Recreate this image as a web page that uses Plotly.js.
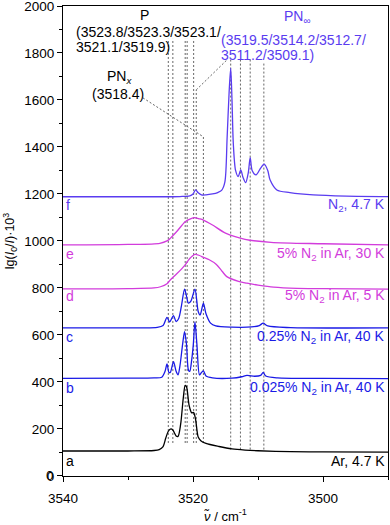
<!DOCTYPE html>
<html>
<head>
<meta charset="utf-8">
<script src="https://cdn.plot.ly/plotly-3.0.1.min.js"></script>
<style>
  html, body { margin: 0; padding: 0; background: #fff; }
  #plotIR { width: 390px; height: 525px; }
</style>
</head>
<body>
<div id="plotIR"></div>
<script>
// spectra, wavenumber (cm-1) and offset absorbance lg(I0/I)*10^3
var wnA = [3540, 3530, 3526, 3525.2, 3524.6, 3524.2, 3523.8, 3523.4, 3523.1, 3522.6, 3522.3, 3521.9, 3521.5, 3521.2, 3521.0, 3520.6, 3520.2, 3519.9, 3519.6, 3519.2, 3518.8, 3518.0, 3516, 3514, 3512, 3510, 3505, 3500, 3490];
var spA  = [106, 106, 108, 112, 125, 160, 190, 200, 195, 170, 168, 220, 330, 385, 380, 300, 268, 270, 240, 165, 150, 138, 125, 115, 110, 107, 103, 102, 101];

var wnB = [3540, 3530, 3526, 3524.8, 3524.3, 3524.0, 3523.7, 3523.5, 3523.0, 3522.6, 3522.3, 3522.0, 3521.6, 3521.3, 3521.0, 3520.7, 3520.5, 3520.2, 3519.95, 3519.7, 3519.4, 3519.0, 3518.7, 3518.4, 3518.0, 3517, 3514, 3512.5, 3511.7, 3510.5, 3509.6, 3509.2, 3508.8, 3507, 3500, 3490];
var spB  = [415, 416, 417, 420, 445, 477, 440, 440, 486, 445, 430, 470, 560, 614, 560, 450, 445, 494, 560, 655, 560, 430, 440, 447, 425, 417, 416, 422, 428, 424, 428, 440, 425, 417, 415, 414];

var wnC = [3540, 3528, 3525.5, 3524.6, 3524.0, 3523.6, 3523.0, 3522.6, 3522.2, 3521.8, 3521.3, 3521.0, 3520.7, 3520.3, 3519.7, 3519.2, 3518.9, 3518.4, 3518.0, 3517.3, 3516.5, 3514, 3511, 3509.8, 3509.2, 3508.5, 3505, 3490];
var spC  = [630, 630, 632, 640, 675, 655, 682, 657, 670, 720, 795, 765, 735, 745, 795, 700, 685, 735, 690, 650, 638, 633, 634, 640, 650, 638, 631, 630];

var wnD = [3540, 3530, 3526, 3525, 3524, 3523.5, 3522.5, 3521.3, 3520.5, 3519.7, 3519, 3518.4, 3517.5, 3516.4, 3515.5, 3514.8, 3513, 3511.7, 3510, 3507.6, 3504, 3500, 3490];
var spD  = [796, 797, 800, 805, 818, 834, 860, 895, 925, 943, 938, 930, 920, 900, 870, 848, 828, 820, 812, 803, 798, 797, 795];

var wnE = [3540, 3530, 3525.1, 3524, 3523.5, 3522.5, 3521.2, 3520.3, 3519.8, 3519, 3518.4, 3517, 3515, 3512, 3508, 3500, 3490];
var spE  = [983, 985, 990, 1000, 1011, 1040, 1082, 1095, 1099, 1094, 1089, 1068, 1033, 1007, 994, 988, 983];

var wnF = [3540, 3530, 3522, 3520.5, 3520, 3519.6, 3519.2, 3518.7, 3518, 3517, 3516.2, 3515.6, 3515.1, 3514.75, 3514.45, 3514.2, 3514.0, 3513.8, 3513.45, 3513.05, 3512.65, 3512.3, 3511.9, 3511.5, 3511.2, 3510.9, 3510.3, 3509.6, 3509.05, 3508.5, 3508.15, 3507.1, 3505.1, 3501.5, 3496.4, 3490];
var spF  = [1188, 1188, 1189, 1192, 1200, 1217, 1205, 1196, 1196, 1200, 1206, 1215, 1250, 1440, 1630, 1735, 1600, 1415, 1300, 1274, 1302, 1270, 1248, 1290, 1355, 1300, 1281, 1310, 1327, 1300, 1260, 1217, 1206, 1196, 1191, 1189];

// y ticks
var yTicks = [0, 200, 400, 600, 800, 1000, 1200, 1400, 1600, 1800, 2000];

// band positions marked by dashed lines
var bandP   = [3523.8, 3523.1, 3521.2, 3520.9, 3519.9];
var bandPNx = [3518.4];
var bandPNinf = [3519.5, 3514.2, 3512.7, 3511.2, 3509.1];
var topP = 1860, topPNx = 1443, topPNinf = [1643, 1779, 1779, 1779, 1762];
var bottomP = 140, bottomPNinf = [140, 112, 112, 112, 112];

// leader lines from labels to bands
var leadPNxX = [3527.7, 3518.4];
var leadPNxY = [1609, 1443];
var leadPNinfX = [3519.5, 3514.8];
var leadPNinfY = [1643, 1770];

var sampleLabels = ["Ar, 4.7 K", "0.025% N<sub>2</sub> in Ar, 40 K", "0.25% N<sub>2</sub> in Ar, 40 K",
                    "5% N<sub>2</sub> in Ar, 5 K", "5% N<sub>2</sub> in Ar, 30 K", "N<sub>2</sub>, 4.7 K"];
var letters = ["a", "b", "c", "d", "e", "f"];
var colors = ["#000000", "#1a1ae6", "#1a1ae6", "#d23cdc", "#d23cdc", "#5a3cf0"];

var dashStyle = {color: "#666", width: 1, dash: "2px,2px"};
var traces = [];

function vline(x, y0, y1) {
    traces.push({x: [x, x], y: [y0, y1], mode: "lines", line: dashStyle, hoverinfo: "skip", showlegend: false});
}
bandP.forEach(function (w) { vline(w, bottomP, topP); });
bandPNx.forEach(function (w) { vline(w, bottomP, topPNx); });
bandPNinf.forEach(function (w, i) { vline(w, bottomPNinf[i], topPNinf[i]); });
traces.push({x: leadPNxX, y: leadPNxY, mode: "lines", line: dashStyle, showlegend: false});
traces.push({x: leadPNinfX, y: leadPNinfY, mode: "lines", line: dashStyle, showlegend: false});

var wns = [wnA, wnB, wnC, wnD, wnE, wnF];
var sps = [spA, spB, spC, spD, spE, spF];
for (var i = 0; i < 6; i++) {
    traces.push({
        x: wns[i], y: sps[i], mode: "lines",
        line: {color: colors[i], width: 1.3, shape: "spline", smoothing: 0.8},
        showlegend: false
    });
}

// label positions in paper units
var labelY = [0.032, 0.187, 0.296, 0.383, 0.472, 0.577];
var ann = [];
function note(x, y, text, font, xanchor) {
    ann.push({xref: "paper", yref: "paper", x: x, y: y, xanchor: xanchor || "center", yanchor: "middle",
              text: text, showarrow: false, font: font});
}
for (var j = 0; j < 6; j++) {
    note(0.003, labelY[j], letters[j], {color: colors[j], size: 14}, "left");
    note(0.998, labelY[j], sampleLabels[j], {color: colors[j], size: 14}, "right");
}
var black = {color: "#000", size: 14};
var purple = {color: colors[5], size: 14};
note(0.252, 0.981, "P", black);
note(0.035, 0.945, "(3523.8/3523.3/3523.1/", black, "left");
note(0.035, 0.913, "3521.1/3519.9)", black, "left");
note(0.175, 0.85, "PN<sub><i>x</i></sub>", black);
note(0.169, 0.812, "(3518.4)", black);
note(0.72, 0.977, "PN<sub>∞</sub>", purple);
note(0.48, 0.928, "(3519.5/3514.2/3512.7/", purple, "left");
note(0.48, 0.895, "3511.2/3509.1)", purple, "left");
// the "0" tick label gets dropped by plotly at the corner, put it back
ann.push({xref: "paper", yref: "y", x: -0.022, y: yTicks[0], xanchor: "right", yanchor: "middle",
          text: String(yTicks[0]), showarrow: false, font: {color: "#000", size: 13.5}});

var layout = {
    width: 390, height: 525,
    margin: {l: 63, r: 2, t: 6, b: 49},
    paper_bgcolor: "#fff", plot_bgcolor: "#fff",
    font: {family: "Liberation Sans, Arial, sans-serif", size: 13.5, color: "#000"},
    showlegend: false,
    xaxis: {
        range: [3540, 3490], dtick: 20, tick0: 3500,
        automargin: false, ticklabeloverflow: "allow", ticklabelstandoff: 5,
        showgrid: false, zeroline: false,
        showline: true, linecolor: "#000", linewidth: 1, mirror: true,
        ticks: "outside", ticklen: 5, tickcolor: "#000",
        minor: {ticks: "outside", dtick: 10, ticklen: 3, tickcolor: "#000"},
        title: {text: "<i>ν̃</i> / cm<sup>-1</sup>", font: {size: 13}, standoff: 6}
    },
    yaxis: {
        range: [-0.5, 2000], tickvals: yTicks,
        automargin: false, ticklabeloverflow: "allow",
        showgrid: false, zeroline: false,
        showline: true, linecolor: "#000", linewidth: 1, mirror: true,
        ticks: "outside", ticklen: 5, tickcolor: "#000",
        minor: {ticks: "outside", dtick: 100, ticklen: 3, tickcolor: "#000"},
        title: {text: "lg(<i>I</i><sub>0</sub>/<i>I</i>)·10<sup>3</sup>", font: {size: 12.5}, standoff: 6}
    },
    annotations: ann
};

Plotly.newPlot("plotIR", traces, layout, {displayModeBar: false, staticPlot: true});
</script>
</body>
</html>
